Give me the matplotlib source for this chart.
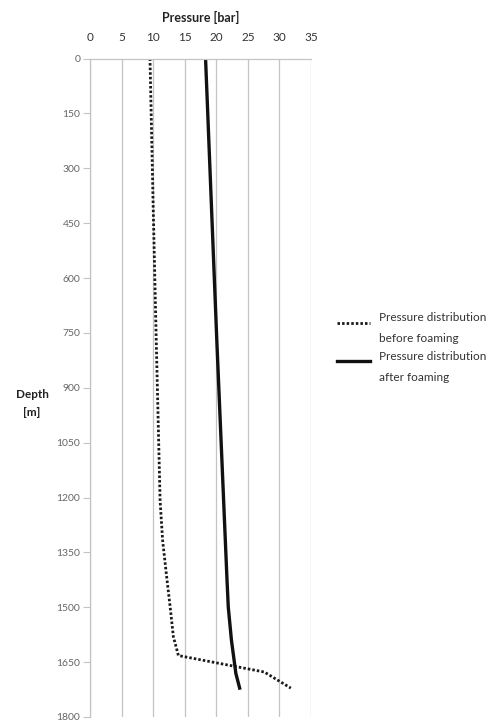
import numpy as np
import matplotlib
matplotlib.use('Agg')
import matplotlib.pyplot as plt
from matplotlib.lines import Line2D

plt.rcParams['font.family'] = ['Lato', 'DejaVu Sans']

# 读取自图片的数值（深度 m，压力 bar）
depth_before = [0, 400, 778, 1208, 1317, 1426, 1500, 1580, 1632, 1677, 1721]
pressure_before = [9.5, 10.0, 10.5, 11.1, 11.5, 12.2, 12.7, 13.2, 14.0, 27.6, 31.8]

depth_after = [0, 778, 1426, 1500, 1590, 1681, 1721]
pressure_after = [18.3, 20.1, 21.7, 21.9, 22.4, 23.1, 23.7]

x_ticks = [0, 5, 10, 15, 20, 25, 30, 35]
y_ticks = [0, 150, 300, 450, 600, 750, 900, 1050, 1200, 1350, 1500, 1650, 1800]

label_before = 'Pressure distribution\nbefore foaming'
label_after = 'Pressure distribution\nafter foaming'

W, H = 496, 722
fig = plt.figure(figsize=(W / 100, H / 100), dpi=100)
ax = fig.add_axes([90 / W, 1 - 717 / H, (311 - 90) / W, (717 - 58.5) / H])

grid_col = '#c4c4c4'
dot_style = (0, (0.9, 0.75))
ax.plot(pressure_before, depth_before, color='#1a1a1a', lw=2.0,
        linestyle=dot_style, dash_capstyle='butt')
ax.plot(pressure_after, depth_after, color='#111111', lw=2.4)

ax.set_xlim(0, 35)
ax.set_ylim(1800, 0)
ax.set_xticks(x_ticks)
ax.set_yticks(y_ticks)
ax.xaxis.tick_top()
ax.xaxis.set_label_position('top')
ax.tick_params(axis='x', length=0, labelsize=8.5, labelcolor='#333333', pad=11)
ax.tick_params(axis='y', length=5, width=0.8, color=grid_col,
               labelsize=7.5, labelcolor='#666666', pad=2)

ax.grid(axis='x', color=grid_col, lw=0.9)
ax.set_axisbelow(True)
for side in ['right', 'bottom']:
    ax.spines[side].set_visible(False)
for side in ['left', 'top']:
    ax.spines[side].set_color(grid_col)
    ax.spines[side].set_linewidth(0.9)

ax.set_xlabel('Pressure [bar]', fontsize=9, fontweight='bold', color='#222222', labelpad=7)
fig.text(32 / W, 1 - 394 / H, 'Depth', fontsize=8.5, fontweight='bold',
         color='#222222', ha='center', va='center')
fig.text(32 / W, 1 - 413 / H, '[m]', fontsize=8.5, fontweight='bold',
         color='#222222', ha='center', va='center')

# 图例（手动放置，行距较大）
legend_items = [
    (label_before, dict(color='#1a1a1a', lw=2.0, linestyle=dot_style), 323, 328),
    (label_after, dict(color='#111111', lw=2.4), 361, 367),
]
for text, style, y_line, y_text in legend_items:
    fig.add_artist(Line2D([337 / W, 370 / W], [1 - y_line / H, 1 - y_line / H],
                          transform=fig.transFigure, **style))
    fig.text(379 / W, 1 - y_text / H, text, fontsize=8.5, color='#333333',
             ha='left', va='center', linespacing=2.05)

fig.savefig('out.png', dpi=100)
